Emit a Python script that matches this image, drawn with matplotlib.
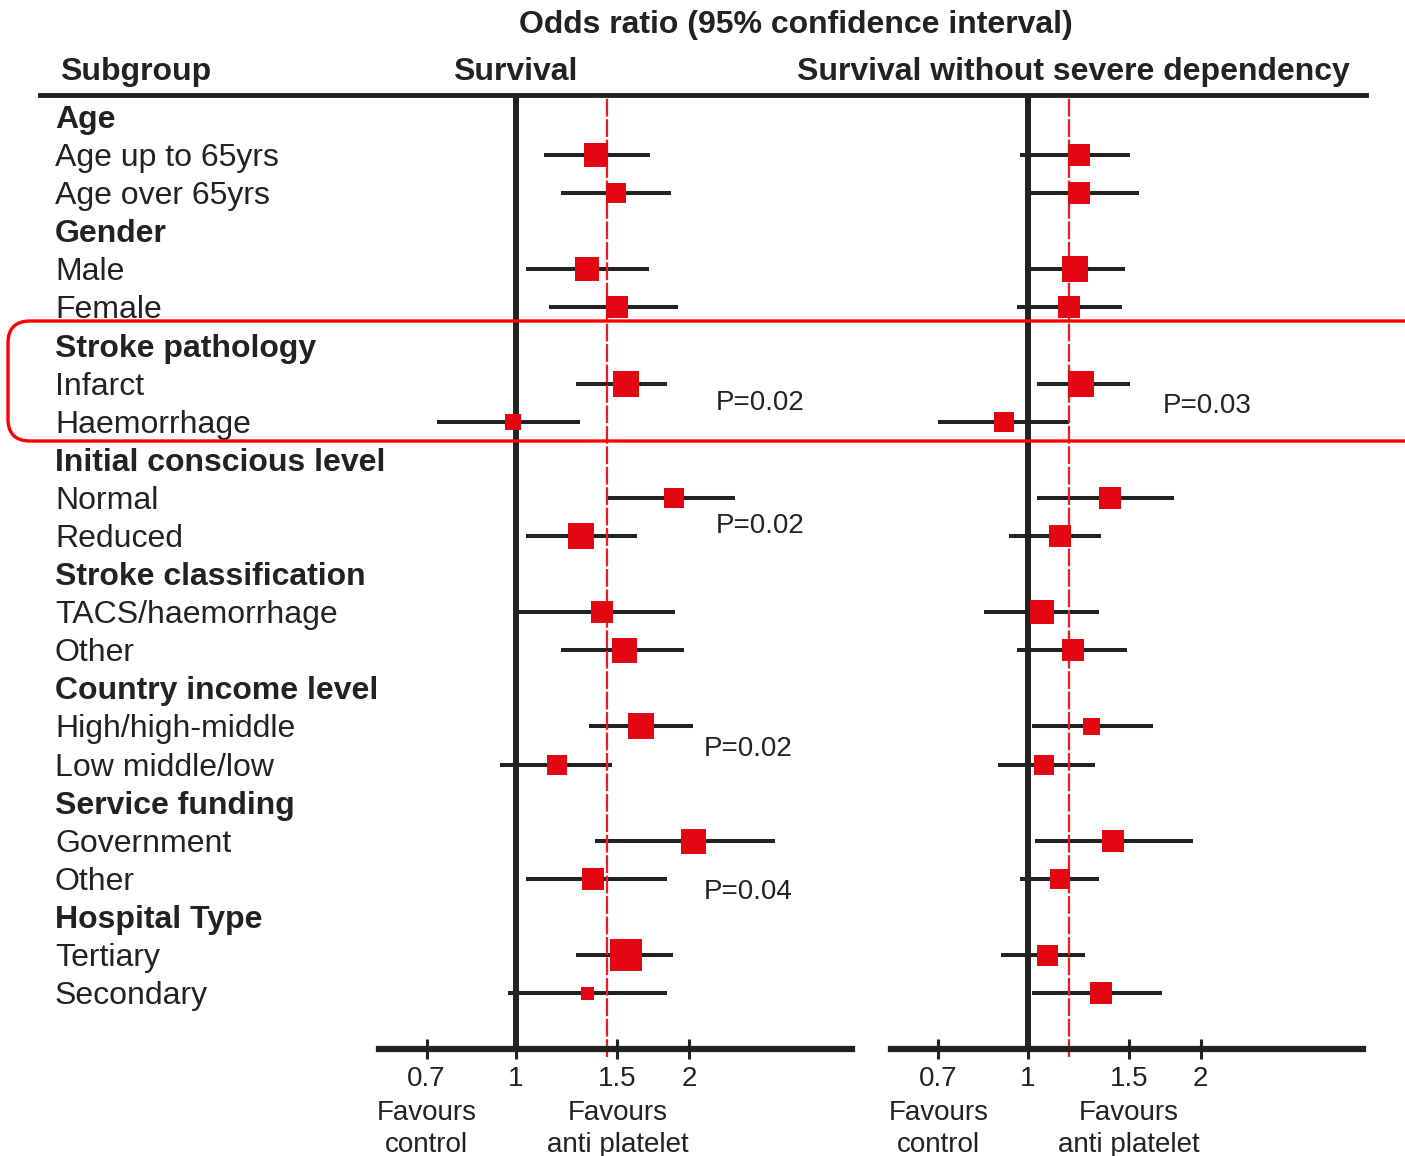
import matplotlib
matplotlib.use("Agg")
import matplotlib.pyplot as plt
from matplotlib import transforms
from matplotlib.lines import Line2D
from matplotlib.patches import FancyBboxPatch
from matplotlib.ticker import NullLocator

plt.rcParams["font.family"] = ["Liberation Sans", "DejaVu Sans"]

GROUPS = [
    "Age",
    "Gender",
    "Stroke pathology",
    "Initial conscious level",
    "Stroke classification",
    "Country income level",
    "Service funding",
    "Hospital Type",
]
SUBGROUPS = [
    ["Age up to 65yrs", "Age over 65yrs"],
    ["Male", "Female"],
    ["Infarct", "Haemorrhage"],
    ["Normal", "Reduced"],
    ["TACS/haemorrhage", "Other"],
    ["High/high-middle", "Low middle/low"],
    ["Government", "Other"],
    ["Tertiary", "Secondary"],
]

# odds ratios with 95% CI, one entry per subgroup (in the order above)
surv_or = [1.38, 1.49, 1.33, 1.50, 1.55, 0.99, 1.88, 1.30, 1.41, 1.54, 1.65, 1.18, 2.03, 1.36, 1.55, 1.33]
surv_lo = [1.12, 1.20, 1.04, 1.14, 1.27, 0.73, 1.44, 1.04, 1.01, 1.20, 1.34, 0.94, 1.37, 1.04, 1.27, 0.97]
surv_hi = [1.71, 1.86, 1.70, 1.91, 1.83, 1.29, 2.40, 1.62, 1.89, 1.96, 2.03, 1.47, 2.82, 1.83, 1.87, 1.83]
surv_weight = [24, 20, 24, 22, 27, 16, 20, 27, 22, 25, 26, 20, 25, 22, 32, 13]

swsd_or = [1.23, 1.23, 1.21, 1.18, 1.24, 0.91, 1.39, 1.14, 1.06, 1.20, 1.29, 1.07, 1.41, 1.14, 1.08, 1.34]
swsd_lo = [0.97, 1.01, 0.99, 0.96, 1.04, 0.70, 1.04, 0.93, 0.84, 0.96, 1.02, 0.89, 1.03, 0.97, 0.90, 1.02]
swsd_hi = [1.51, 1.56, 1.48, 1.46, 1.51, 1.18, 1.80, 1.34, 1.33, 1.49, 1.65, 1.31, 1.94, 1.33, 1.26, 1.71]
swsd_weight = [22, 22, 26, 23, 27, 20, 23, 23, 24, 23, 17, 20, 22, 20, 21, 22]

overall_surv = 1.44
overall_swsd = 1.18

# interaction p-values: (row, text, x position in OR units)
surv_pvals = [(7.45, "P=0.02", 2.22), (10.68, "P=0.02", 2.22), (16.54, "P=0.02", 2.12), (20.3, "P=0.04", 2.12)]
swsd_pvals = [(7.53, "P=0.03", 1.72)]

TICKS = [0.7, 1, 1.5, 2]
TICK_LABELS = ["0.7", "1", "1.5", "2"]

W, H = 1405, 1156
INK = "#222222"
RED = "#e30613"
FS = 23

ROW0, ROW_STEP = 117, 38.09
PANEL_TOP, PANEL_BOTTOM = 95, 1049

fig = plt.figure(figsize=(W / 100, H / 100), dpi=100)

rows = [3 * g + 1 + k for g in range(len(GROUPS)) for k in (0, 1)]


def draw_panel(left, right, odds, lo, hi, weight, overall, pvals):
    ax = fig.add_axes([left / W, 1 - PANEL_BOTTOM / H, (right - left) / W, (PANEL_BOTTOM - PANEL_TOP) / H])
    ax.patch.set_alpha(0)
    ax.set_xscale("log")
    ax.set_xlim(0.579, 3.83)
    ax.set_ylim((PANEL_BOTTOM - ROW0) / ROW_STEP, (PANEL_TOP - ROW0) / ROW_STEP)

    for side in ("top", "left", "right"):
        ax.spines[side].set_visible(False)
    ax.spines["bottom"].set_linewidth(4.5)
    ax.spines["bottom"].set_color(INK)
    ax.set_yticks([])
    ax.set_xticks(TICKS)
    ax.set_xticklabels(TICK_LABELS)
    ax.xaxis.set_minor_locator(NullLocator())
    ax.tick_params(axis="x", direction="inout", length=14, width=2.2, color=INK,
                   labelcolor=INK, labelsize=20, pad=5)

    ax.axvline(1, color=INK, lw=4.3, zorder=1.5)
    ax.axvline(overall, ymin=-0.008, ymax=1, color="#ee1c25", lw=1.6,
               dashes=(8, 1.2), zorder=2.5, clip_on=False)

    for r, o, l, h, w in zip(rows, odds, lo, hi, weight):
        ax.plot([l, h], [r, r], color=INK, lw=2.9, solid_capstyle="butt", zorder=2)
        ax.plot(o, r, marker="s", ms=w * 0.72, color=RED, mew=0, zorder=3)

    shifted = transforms.offset_copy(ax.transData, fig=fig, y=-2, units="dots")
    for r, text, x in pvals:
        ax.text(x, r, text, transform=shifted, fontsize=20, color=INK, ha="left", va="center")

    below = transforms.blended_transform_factory(ax.transData, fig.transFigure)
    for x, lines in ((0.7, ("Favours", "control")), (1.5, ("Favours", "anti platelet"))):
        ax.text(x, 1 - 1113 / H, lines[0], transform=below, fontsize=20,
                color=INK, ha="center", va="center")
        ax.text(x, 1 - 1145 / H, lines[1], transform=below, fontsize=20,
                color=INK, ha="center", va="center")
    return ax


ax_surv = draw_panel(379, 852, surv_or, surv_lo, surv_hi, surv_weight, overall_surv, surv_pvals)
ax_swsd = draw_panel(891, 1363, swsd_or, swsd_lo, swsd_hi, swsd_weight, overall_swsd, swsd_pvals)

# subgroup labels on the left, aligned to panel rows
label_tf = transforms.offset_copy(
    transforms.blended_transform_factory(fig.transFigure, ax_surv.transData),
    fig=fig, y=-3, units="dots")
for g, name in enumerate(GROUPS):
    fig.text(55 / W, 3 * g, name, transform=label_tf, fontsize=FS,
             weight="bold", color=INK, va="center")
    for k, sub in enumerate(SUBGROUPS[g]):
        fig.text(55 / W, 3 * g + 1 + k, sub, transform=label_tf, fontsize=FS,
                 color=INK, va="center")

# column headings
fig.text(796 / W, 1 - 25 / H, "Odds ratio (95% confidence interval)", fontsize=FS,
         weight="bold", color=INK, ha="center", va="center")
fig.text(60 / W, 1 - 72 / H, "Subgroup", fontsize=FS, weight="bold", color=INK, va="center")
fig.text(515 / W, 1 - 72 / H, "Survival", fontsize=FS, weight="bold", color=INK,
         ha="center", va="center")
fig.text(1073 / W, 1 - 72 / H, "Survival without severe dependency", fontsize=FS,
         weight="bold", color=INK, ha="center", va="center")

# overlay in pixel units for the rule under the headings and the highlight box
ov = fig.add_axes([0, 0, 1, 1], zorder=5)
ov.set_xlim(0, W)
ov.set_ylim(H, 0)
ov.axis("off")
ov.patch.set_alpha(0)
ov.add_line(Line2D([40, 1366], [95, 95], lw=3.5, color=INK))
ov.add_patch(FancyBboxPatch((8, 321), 1440, 120, boxstyle="round,pad=0,rounding_size=22",
                            ec="#ff0000", fc="none", lw=2.4))

fig.savefig("out.png", dpi=100)
